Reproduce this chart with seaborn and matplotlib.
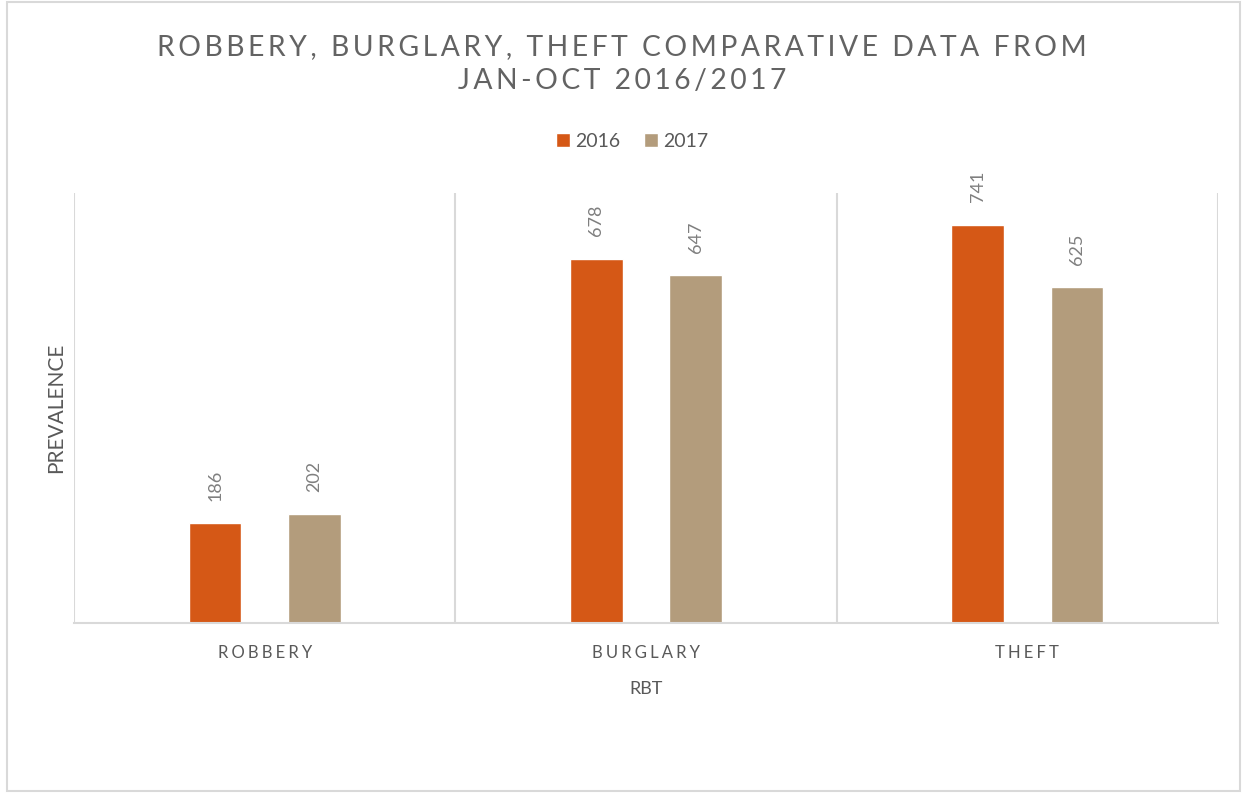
import matplotlib
matplotlib.use("Agg")
import matplotlib.pyplot as plt
import seaborn as sns
import pandas as pd
from matplotlib.patches import Rectangle

categories = ["ROBBERY", "BURGLARY", "THEFT"]
years = ["2016", "2017"]
values_2016 = [186, 678, 741]
values_2017 = [202, 647, 625]

df = pd.DataFrame({
    "cat": categories * 2,
    "year": [years[0]] * 3 + [years[1]] * 3,
    "val": values_2016 + values_2017,
})

sns.set_theme(style="white")
plt.rcParams["font.family"] = ["Lato", "DejaVu Sans"]

fig = plt.figure(figsize=(12.44, 7.93), dpi=100)
ax = fig.add_axes([74/1244, 1 - 623/793, (1218-74)/1244, (623-193)/793])

palette = {"2016": "#D55816", "2017": "#B39C7C"}
sns.barplot(data=df, x="cat", y="val", hue="year", order=categories, hue_order=years,
            palette=palette, width=0.52, gap=0.47, ax=ax, saturation=1, legend=True)

ax.set_ylim(0, 800)
ax.set_xlim(-0.5, 2.5)
ax.set_yticks([])
for s in ["top", "right", "left"]:
    ax.spines[s].set_visible(False)
ax.spines["bottom"].set_color("#d9d9d9")
ax.spines["bottom"].set_linewidth(1.5)

ax.set_xticks([-0.5, 0.5, 1.5, 2.5], minor=True)
ax.grid(True, which="minor", axis="x", color="#d9d9d9", linewidth=1.5)
ax.grid(False, which="major")
ax.tick_params(axis="x", which="both", length=0)

def spaced(s, sep="\u2009"):
    return sep.join(list(s))

ax.set_xticks(range(3))
ax.set_xticklabels([spaced(c, "\u2009\u200a") for c in categories], fontsize=12, color="#595959")
ax.tick_params(axis="x", pad=16)

for cont in ax.containers:
    ax.bar_label(cont, labels=[f"{int(v)}" for v in cont.datavalues], rotation=90,
                 padding=16, fontsize=13, color="#7f7f7f")

ax.set_xlabel("RBT", fontsize=13, color="#595959", labelpad=14)
ax.set_ylabel("PREVALENCE", fontsize=15, color="#595959", labelpad=6)

leg = ax.legend(loc="upper center", bbox_to_anchor=(0.488, 1.18), ncol=2, frameon=False,
                fontsize=14, handlelength=0.7, handleheight=0.7, handletextpad=0.3,
                columnspacing=1.2)
for t in leg.get_texts():
    t.set_color("#595959")

fig.text(0.5, 1 - 47/793, spaced("ROBBERY, BURGLARY, THEFT COMPARATIVE DATA FROM"),
         ha="center", va="center", fontsize=20.3, color="#636363")
fig.text(0.5, 1 - 81/793, spaced("JAN-OCT 2016/2017"),
         ha="center", va="center", fontsize=20.3, color="#636363")

fig.patches.append(Rectangle((7/1244, 2/793), (1240-7)/1244, (791-2)/793,
                             transform=fig.transFigure, fill=False,
                             edgecolor="#d9d9d9", linewidth=1.5))

fig.savefig("out.png", dpi=100)
